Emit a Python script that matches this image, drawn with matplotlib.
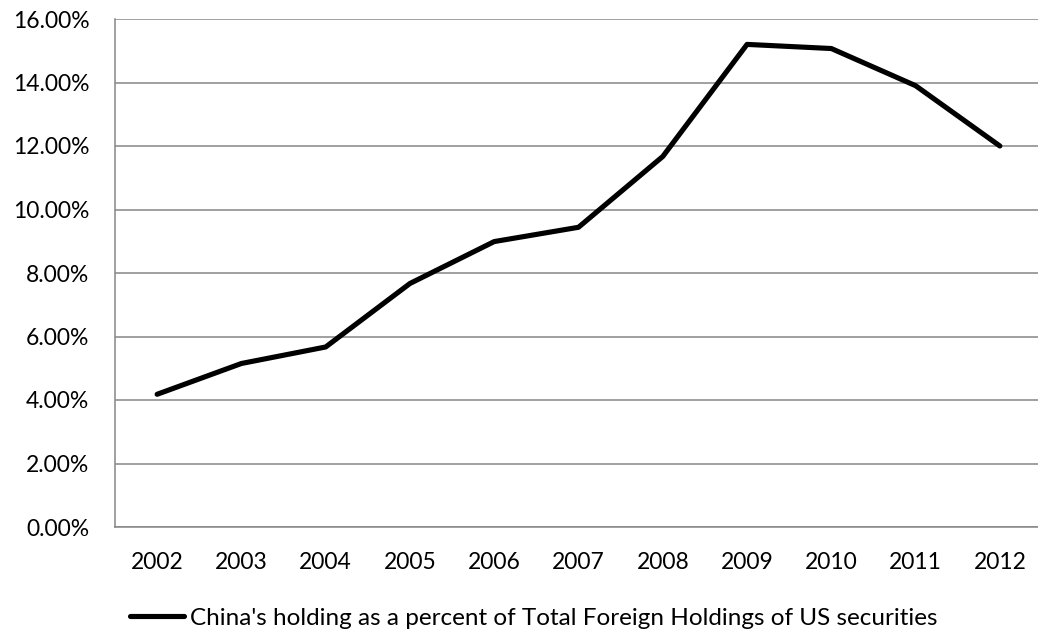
import matplotlib
matplotlib.use("Agg")
import matplotlib.pyplot as plt
from matplotlib.ticker import FuncFormatter, MultipleLocator

years = ["2002", "2003", "2004", "2005", "2006", "2007", "2008", "2009", "2010", "2011", "2012"]
china_share = [4.18, 5.15, 5.67, 7.67, 8.99, 9.44, 11.67, 15.20, 15.07, 13.90, 12.00]
series_label = "China's holding as a percent of Total Foreign Holdings of US securities"

plt.rcParams['font.family'] = ['Lato', 'DejaVu Sans']

W, H = 1038, 631
fig = plt.figure(figsize=(W / 100, H / 100), dpi=100)
left, right, bottom, top = 115, 1042, 527, 19
ax = fig.add_axes([left / W, (H - bottom) / H, (right - left) / W, (bottom - top) / H])

x = list(range(len(years)))
line, = ax.plot(x, china_share, color='black', linewidth=3.7,
                solid_joinstyle='round', solid_capstyle='round', label=series_label)

ax.set_xlim(-0.5, len(years) - 0.5)
ax.set_ylim(0, 16)
ax.yaxis.set_major_locator(MultipleLocator(2))
ax.yaxis.set_major_formatter(FuncFormatter(lambda v, p: f"{v:.2f}%"))
ax.set_xticks(x)
ax.set_xticklabels(years)

grid_c = '#868686'
ax.grid(axis='y', color=grid_c, linewidth=1.1)
ax.set_axisbelow(True)
for s in ['top', 'right']:
    ax.spines[s].set_visible(False)
for s in ['left', 'bottom']:
    ax.spines[s].set_color(grid_c)
    ax.spines[s].set_linewidth(1.1)

fs = 16.5
ax.tick_params(axis='both', length=0, labelsize=fs, colors='black')
ax.tick_params(axis='y', pad=18.5)
ax.tick_params(axis='x', pad=18)

fig.legend(handles=[line], loc='center', bbox_to_anchor=(534 / W, 13 / H),
           frameon=False, fontsize=17.5, handlelength=2.2, handletextpad=0.25)

fig.savefig("out.png", dpi=100, facecolor='white')
